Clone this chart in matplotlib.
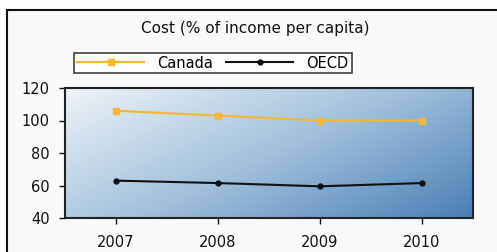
import numpy as np
import matplotlib.pyplot as plt
from matplotlib.patches import Rectangle
from matplotlib.colors import LinearSegmentedColormap

# data
years = [2007, 2008, 2009, 2010]
canada = [106, 103, 100, 100]
oecd = [63, 61.5, 59.5, 61.5]
yticks = [40, 60, 80, 100, 120]

W, H = 497, 252
fig = plt.figure(figsize=(W / 100, H / 100), dpi=100)
fig.patch.set_facecolor("white")

# outer frame of the panel (runs off the right/bottom edge)
frame = Rectangle((7 / W, -0.05), 1.0, 1 - 10 / H + 0.05, transform=fig.transFigure,
                  facecolor="#f8f9fb", edgecolor="#111111", linewidth=1.5, zorder=-5)
fig.patches.append(frame)

ax = fig.add_axes([65 / W, 1 - 218 / H, 408 / W, 130 / H], zorder=2)
ax.set_xlim(2006.5, 2010.5)
ax.set_ylim(40, 120)
ax.patch.set_alpha(0)

# diagonal gradient in the plot area
cmap = LinearSegmentedColormap.from_list("bg", ["#eef3f8", "#a3c1db", "#4a80b6"])
gx, gy = np.meshgrid(np.linspace(0, 1, 200), np.linspace(0, 1, 100))
grad = 0.6 * gx + 0.4 * gy
ax.imshow(grad, extent=[2006.5, 2010.5, 40, 120], origin="upper", aspect="auto",
          cmap=cmap, zorder=0, interpolation="bilinear")

ax.plot(years, canada, color="#f5b731", lw=1.5, marker="s", ms=4, label="Canada", zorder=3)
ax.plot(years, oecd, color="#111111", lw=1.5, marker="o", ms=3.5, label="OECD", zorder=3)

ax.set_xticks(years)
ax.set_yticks(yticks)
ax.tick_params(labelsize=10.5, colors="#111111", length=4, width=1)
ax.tick_params(axis="x", pad=8)
ax.tick_params(axis="y", pad=7)
for s in ax.spines.values():
    s.set_linewidth(1.5)
    s.set_color("#222222")

fig.text(255 / W, 1 - 28 / H, "Cost (% of income per capita)", ha="center", va="center",
         fontsize=11, color="#111111")

leg = fig.legend(loc="center", bbox_to_anchor=(213 / W, 1 - 63 / H), ncol=2,
                 fontsize=10.5, frameon=True, fancybox=False, handlelength=4.6,
                 columnspacing=0.9, handletextpad=0.9, borderpad=0.2)
leg.get_frame().set_edgecolor("#111111")
leg.get_frame().set_linewidth(1.2)
leg.get_frame().set_facecolor("white")

fig.savefig("out.png", dpi=100)
